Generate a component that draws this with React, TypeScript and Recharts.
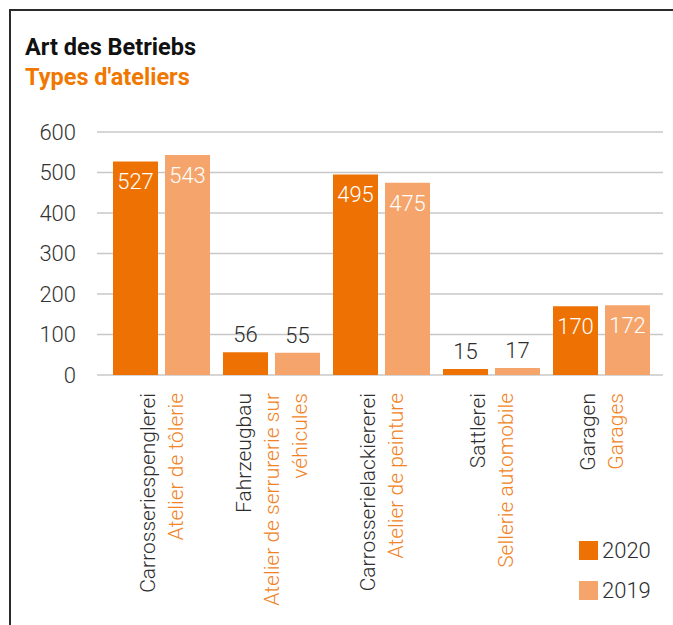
import React from "react";
import { BarChart, Bar, XAxis, YAxis, CartesianGrid, LabelList, Legend } from "recharts";

const categoriesDe = ["Carrosseriespenglerei", "Fahrzeugbau", "Carrosserielackiererei", "Sattlerei", "Garagen"];
const categoriesFr = [["Atelier de tôlerie"], ["Atelier de serrurerie sur", "véhicules"], ["Atelier de peinture"], ["Sellerie automobile"], ["Garages"]];
const values2020 = [527, 56, 495, 15, 170];
const values2019 = [543, 55, 475, 17, 172];
const yTicks = [0, 100, 200, 300, 400, 500, 600];
const seriesNames = ["2020", "2019"];

const C2020 = "#EE7203";
const C2019 = "#F5A56B";
const FR = "#F08326";
const TXT = "#2e2e2e";
const FONT = "Roboto, 'DejaVu Sans', sans-serif";

const data = categoriesDe.map((de, i) => ({ de, fr: categoriesFr[i], v2020: values2020[i], v2019: values2019[i] }));

const CatTick = (props: any) => {
  const { x, y, payload } = props;
  const i = payload.index;
  const lines: { t: string; c: string }[] = [{ t: categoriesDe[i], c: TXT }, ...categoriesFr[i].map((t) => ({ t, c: FR }))];
  const n = lines.length;
  const sp = 28;
  return (
    <g transform={`translate(${x},${y + 18})`}>
      {lines.map((l, k) => (
        <text key={k} transform="rotate(-90)" x={0} y={(k - (n - 1) / 2) * sp} dy="0.36em" textAnchor="end" fill={l.c} fontSize={21} fontWeight={300} fontFamily={FONT}>
          {l.t}
        </text>
      ))}
    </g>
  );
};

const ValueLabel = (props: any) => {
  const { x, y, width, value } = props;
  const inside = value > 100;
  return (
    <text x={x + width / 2} y={inside ? y + 20 : y - 18} dy="0.36em" textAnchor="middle" fill={inside ? "#ffffff" : TXT} fontSize={22} fontWeight={300} fontFamily={FONT}>
      {value}
    </text>
  );
};

const LegendContent = () => (
  <div style={{ fontFamily: FONT, fontWeight: 300, fontSize: 22, color: TXT }}>
    {seriesNames.map((s, k) => (
      <div key={s} style={{ display: "flex", alignItems: "center", height: 19, marginBottom: k === 0 ? 21 : 0 }}>
        <div style={{ width: 19, height: 19, background: k === 0 ? C2020 : C2019, marginRight: 4 }} />
        <span style={{ lineHeight: "19px" }}>{s}</span>
      </div>
    ))}
  </div>
);

const TITLE_FONT = "Roboto, 'DejaVu Sans', sans-serif";

export default function App() {
  return (
    <div style={{ position: "absolute", left: 0, top: 0, width: 673, height: 625, overflow: "hidden", background: "#fff" }}>
      <div style={{ position: "absolute", left: 9, top: 9, width: 700, height: 700, borderTop: "2px solid #2b2b2b", borderLeft: "2px solid #2b2b2b" }} />
      <div style={{ position: "absolute", left: 25, top: 35.5, fontFamily: TITLE_FONT, fontWeight: 700, fontSize: 23.5, lineHeight: "23.5px", color: "#111", whiteSpace: "nowrap" }}>
        Art des Betriebs
      </div>
      <div style={{ position: "absolute", left: 25, top: 66.2, fontFamily: TITLE_FONT, fontWeight: 700, fontSize: 23.5, lineHeight: "23.5px", color: "#F07800", whiteSpace: "nowrap" }}>
        Types d'ateliers
      </div>
      <div style={{ position: "absolute", left: 0, top: 0 }}>
        <BarChart width={673} height={625} data={data} margin={{ top: 132, right: 10, bottom: 0, left: 0 }} barSize={45} barGap={7}>
          <CartesianGrid vertical={false} stroke="#c8c8c8" strokeWidth={1.5} />
          <YAxis domain={[0, 600]} ticks={yTicks} width={97} tickSize={0} tickMargin={21} axisLine={false} tickLine={false}
            tick={{ fill: "#333", fontSize: 22, fontWeight: 300, fontFamily: FONT }} />
          <XAxis dataKey="de" interval={0} height={250} tickSize={0} tickMargin={0} axisLine={false} tickLine={false} padding={{ left: 9, right: 7 }} tick={<CatTick />} />
          <Bar dataKey="v2020" name="2020" fill={C2020} isAnimationActive={false}>
            <LabelList dataKey="v2020" content={<ValueLabel />} />
          </Bar>
          <Bar dataKey="v2019" name="2019" fill={C2019} isAnimationActive={false}>
            <LabelList dataKey="v2019" content={<ValueLabel />} />
          </Bar>
          <Legend layout="vertical" align="center" verticalAlign="middle" content={<LegendContent />}
            wrapperStyle={{ position: "absolute", left: 579, top: 541, width: 90, height: 60 }} />
        </BarChart>
      </div>
    </div>
  );
}
